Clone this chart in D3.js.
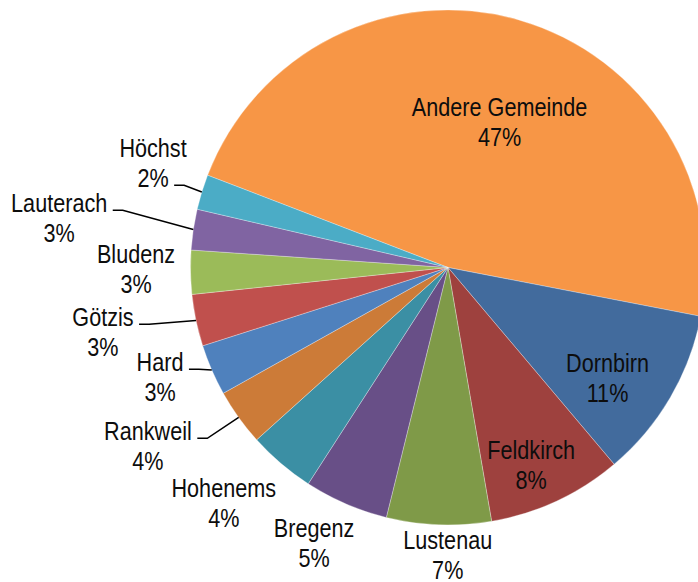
<!DOCTYPE html>
<html>
<head>
<meta charset="utf-8">
<script src="https://cdn.jsdelivr.net/npm/d3@7"></script>
<style>
  body { margin: 0; background: #fff; }
  svg { display: block; }
  .lbl { font-family: "Liberation Sans", Arial, sans-serif; font-size: 25px; fill: #0d0d0d; }
  .leader { fill: none; stroke: #000; stroke-width: 1.5; }
</style>
</head>
<body>
<svg></svg>
<script>
// shares of slices, clockwise starting at "Andere Gemeinde"
var names = ["Andere Gemeinde", "Dornbirn", "Feldkirch", "Lustenau", "Bregenz", "Hohenems",
  "Rankweil", "Hard", "Götzis", "Bludenz", "Lauterach", "Höchst"];
var shares = [47.2, 10.8, 8.45, 6.56, 5.28, 4.2, 3.55, 3.2, 3.25, 2.75, 2.55, 2.2];
var colors = ["#F79646", "#426B9D", "#9E413E", "#7F9A48", "#684F87", "#3B8FA4",
  "#CC7B38", "#4F81BD", "#C0504D", "#9BBB59", "#8064A2", "#4BACC6"];

// label layout: [distance from centre, angle nudge in degrees, leader line row (-1 = none)]
var labelLayout = [
  [154, 3.6, -1], [194, 4.3, -1], [214, 2.1, -1], [288, -2, -1],
  [306, 2.6, -1], [325, 3.2, -1], [349, 4.9, 0], [308, 2.7, 0],
  [351, 1.3, 0], [312, 0.8, -1], [392, -1.2, 0], [313, 2.5, 1]
];

var width = 698,
  height = 582,
  cx = 448, cy = 267.5,
  radius = 257.5,
  lineH = 30,
  narrow = 0.865, // squeeze Arial metrics into a narrow face
  startDeg = -69;

var svg = d3.select("svg").attr("width", width).attr("height", height);

var total = d3.sum(shares);
var fmt = function(v) { return Math.round(v / total * 100) + "%"; };

var pie = d3.pie()
  .sort(null)
  .startAngle(startDeg * Math.PI / 180)
  .endAngle(startDeg * Math.PI / 180 + 2 * Math.PI);

var arc = d3.arc().innerRadius(0).outerRadius(radius);

var data = pie(shares);

var g = svg.append("g").attr("transform", "translate(" + cx + "," + cy + ")");

g.selectAll("path.slice")
  .data(data)
  .enter()
  .append("path")
  .attr("class", "slice")
  .attr("d", arc)
  .attr("fill", function(d, i) { return colors[i]; })
  .attr("stroke", "#fff")
  .attr("stroke-opacity", 0.5)
  .attr("stroke-width", 0.6);

function polar(a, r) {
  return [r * Math.sin(a), -r * Math.cos(a)];
}

var labels = g.selectAll("g.label")
  .data(data)
  .enter()
  .append("g")
  .attr("class", "label");

labels.each(function(d, i) {
  var lay = labelLayout[i];
  var mid = (d.startAngle + d.endAngle) / 2;
  var p = polar(mid + lay[1] * Math.PI / 180, lay[0]);
  var t = d3.select(this).append("text")
    .attr("class", "lbl")
    .attr("text-anchor", "middle")
    .attr("transform", "translate(" + p[0] + "," + (p[1] - 6) + ") scale(" + narrow + ",1)");
  t.append("tspan").attr("x", 0).attr("dy", 0).text(names[i]);
  t.append("tspan").attr("x", 0).attr("dy", lineH).text(fmt(d.value));

  if (lay[2] >= 0) {
    var row = t.selectAll("tspan").nodes()[lay[2]];
    var w = row.getComputedTextLength() * narrow;
    var x0 = p[0] + w / 2 + 5.5,
      y0 = p[1] - 6 + lay[2] * lineH - 1.5;
    var end = polar(mid, radius);
    d3.select(this).append("path")
      .attr("class", "leader")
      .attr("d", d3.line()([[x0, y0], [x0 + 10, y0], end]));
  }
});
</script>
</body>
</html>
